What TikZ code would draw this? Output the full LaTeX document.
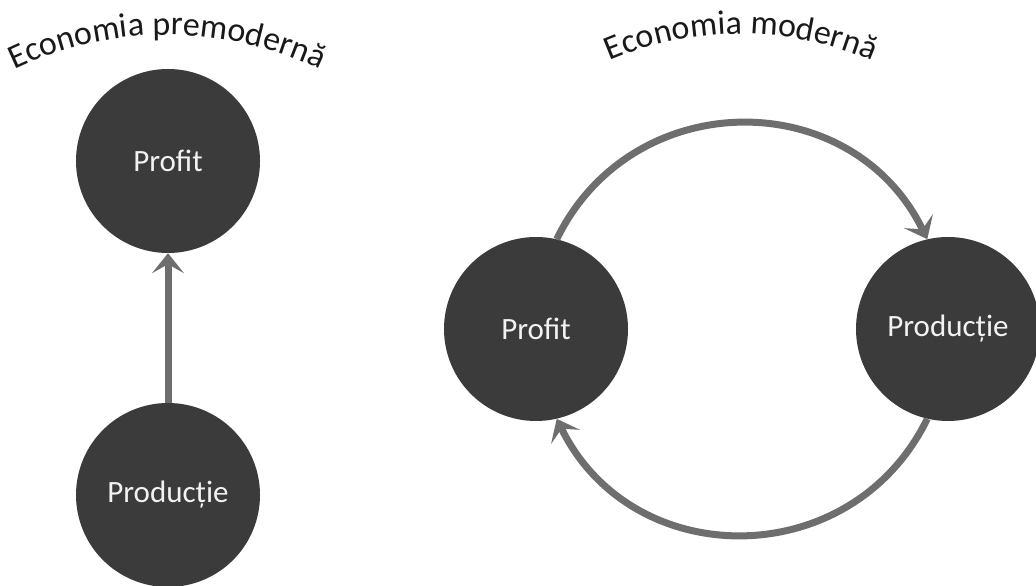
\documentclass[tikz,border=0pt]{standalone}
\usepackage{fontspec}
\setmainfont{Carlito}
\usetikzlibrary{arrows.meta,decorations.text}

\tikzset{
  ball/.style={circle, fill=black!77, text=black!5, minimum size=184pt, inner sep=0pt,
    font=\fontsize{31}{36}\selectfont},
  flow/.style={draw=black!57, line width=7pt, -{Stealth[length=20pt,width=32pt,inset=9pt]}},
  arch/.style={decorate, decoration={text along path, text align=center,
    text={|\fontsize{34}{40}\selectfont\color{black!90}|#1}}}
}

\begin{document}
\begin{tikzpicture}[x=1pt, y=1pt]
        \useasboundingbox (0,0) rectangle (1036,586);

        % premoderna
        \node[ball] (PR1) at (168,425) {Profit};
        \node[ball] (PD1) at (168,91) {Producție};
        \draw[flow] (PD1) -- (PR1);

        % moderna
        \node[ball] (PR2) at (536,257) {Profit};
        \node[ball] (PD2) at (948,257) {Producție};
        \draw[flow] (PR2.77) to[out=64, in=116, looseness=1.19] (PD2.103);
        \draw[flow] (PD2.257) to[out=244, in=-64, looseness=1.19] (PR2.283);

        % titluri
        \path[arch=Economia premodernă] (167,195) ++(130:356) arc[start angle=130, end angle=50, radius=356];
        \path[arch=Economia modernă] (741,221) ++(130:331) arc[start angle=130, end angle=50, radius=331];
      \end{tikzpicture}
\end{document}
